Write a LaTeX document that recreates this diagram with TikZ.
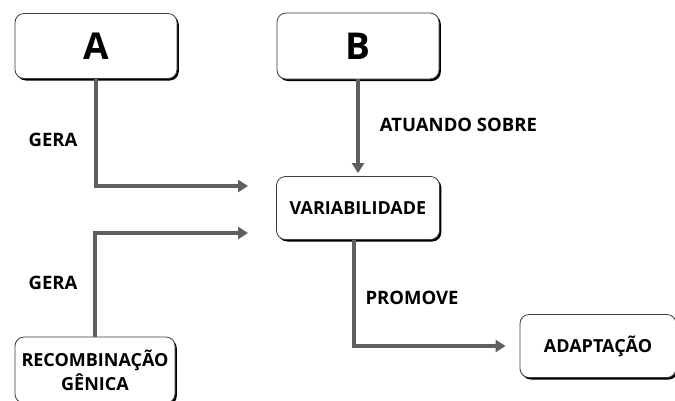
\documentclass[tikz,border=0pt]{standalone}
\usepackage{fontspec}
\setmainfont{Open Sans}
\usetikzlibrary{arrows.meta}
\usetikzlibrary{positioning}
\usetikzlibrary{shadows}

\tikzset{
  caixa/.style={draw={rgb,255:red,60;green,60;blue,60}, line width=0.8pt, fill=white,
    rounded corners=9pt, align=center, font=\bfseries\fontsize{18}{24}\selectfont,
    drop shadow={shadow xshift=1.8pt, shadow yshift=-2pt, fill=black, opacity=1}},
  seta/.style={draw={rgb,255:red,95;green,95;blue,95}, line width=3.2pt,
    -{Triangle[length=10pt,width=12pt]}},
  rotulo/.style={font=\bfseries\fontsize{18.5}{22}\selectfont, inner sep=0.75pt}
}

\begin{document}
\begin{tikzpicture}[x=1pt,y=-1pt]
\useasboundingbox (0,0) rectangle (675,400);

%Boxes
\node [caixa, minimum width=162pt, minimum height=65pt, font=\bfseries\fontsize{37}{40}\selectfont] (A) at (96,46) {A};
\node [caixa, minimum width=162pt, minimum height=66pt, font=\bfseries\fontsize{37}{40}\selectfont] (B) at (358,46) {B};
\node [caixa, minimum width=163pt, minimum height=63pt] (Var) at (358,208) {VARIABILIDADE};
\node [caixa, minimum width=160pt, minimum height=66pt] (Rec) at (95,370) {RECOMBINAÇÃO\\GÊNICA};
\node [caixa, minimum width=156pt, minimum height=63pt] (Adapt) at (598,346) {ADAPTAÇÃO};

%Free ends
\coordinate (fimA) at (248,186);
\coordinate (fimRec) at (248,233);

%Connectors
\draw [seta] (A.south) |- (fimA);
\draw [seta] (Rec.north) |- (fimRec);
\draw [seta, shorten >=3pt] (B.south) -- (Var.north);
\draw [seta, shorten >=14pt] ([xshift=-4pt]Var.south) |- (Adapt.west);

%Labels
\node [rotulo] (geraA) at (53,140) {GERA};
\node [rotulo] (geraRec) at (53,283) {GERA};
\node [rotulo, anchor=west] (atuando) at (379,125) {ATUANDO SOBRE};
\node [rotulo] (promove) at (412,298) {PROMOVE};

\end{tikzpicture}
\end{document}
